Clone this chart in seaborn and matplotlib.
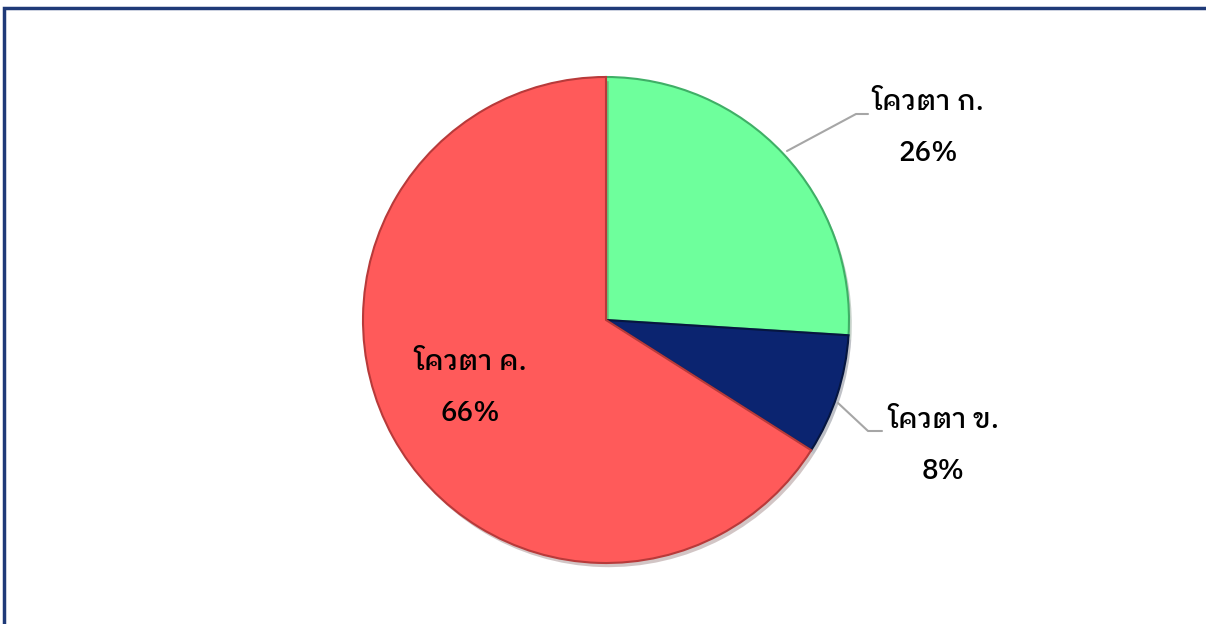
import matplotlib
matplotlib.use("Agg")
import matplotlib.pyplot as plt
from matplotlib.patches import Rectangle
import matplotlib.patheffects as pe
import seaborn as sns

categories = ["โควตา ก.", "โควตา ข.", "โควตา ค."]
shares = [26, 8, 66]
colors = ["#6EFF9C", "#0B2470", "#FF5A5A"]
edges = ["#3FAF66", "#061640", "#B83A3A"]

sns.set_theme(style="white")
plt.rcParams["font.family"] = ["IBM Plex Sans Thai Looped", "DejaVu Sans"]

fig = plt.figure(figsize=(12.06, 6.24), dpi=100)
ax = fig.add_axes([363 / 1206, (624 - 563) / 624, 486 / 1206, 486 / 624])

wedges, _ = ax.pie(shares, colors=colors, startangle=90, counterclock=False,
                   wedgeprops=dict(linewidth=1.5))
for w, ec in zip(wedges, edges):
    w.set_edgecolor(ec)
    w.set_path_effects([pe.SimplePatchShadow(offset=(2, -3), alpha=0.25), pe.Normal()])
ax.set_xlim(-1, 1)
ax.set_ylim(-1, 1)
ax.set_aspect("equal")
ax.axis("off")

def px(x, y):
    return ((x - 606) / 243, (322 - y) / 243)

label_pos = [px(928, 130), px(943, 448), px(470, 390)]
for cat, val, pos in zip(categories, shares, label_pos):
    ax.text(pos[0], pos[1], f"{cat}\n{val}%", ha="center", va="center",
            fontsize=20, fontweight="medium", color="black", linespacing=2.1)

# leader lines
lines = [[(787, 153), (856, 116), (868, 116)], [(838, 405), (868, 433), (882, 433)]]
for ln in lines:
    xs, ys = zip(*[px(*p) for p in ln])
    ax.plot(xs, ys, color="#A6A6A6", lw=1.5, clip_on=False)

fig.patches.append(Rectangle((4 / 1206, -0.1), 1.2, (624 - 8) / 624 + 0.1,
                             transform=fig.transFigure, fill=False,
                             edgecolor="#1F3A78", linewidth=2.5))

fig.savefig("out.png")
